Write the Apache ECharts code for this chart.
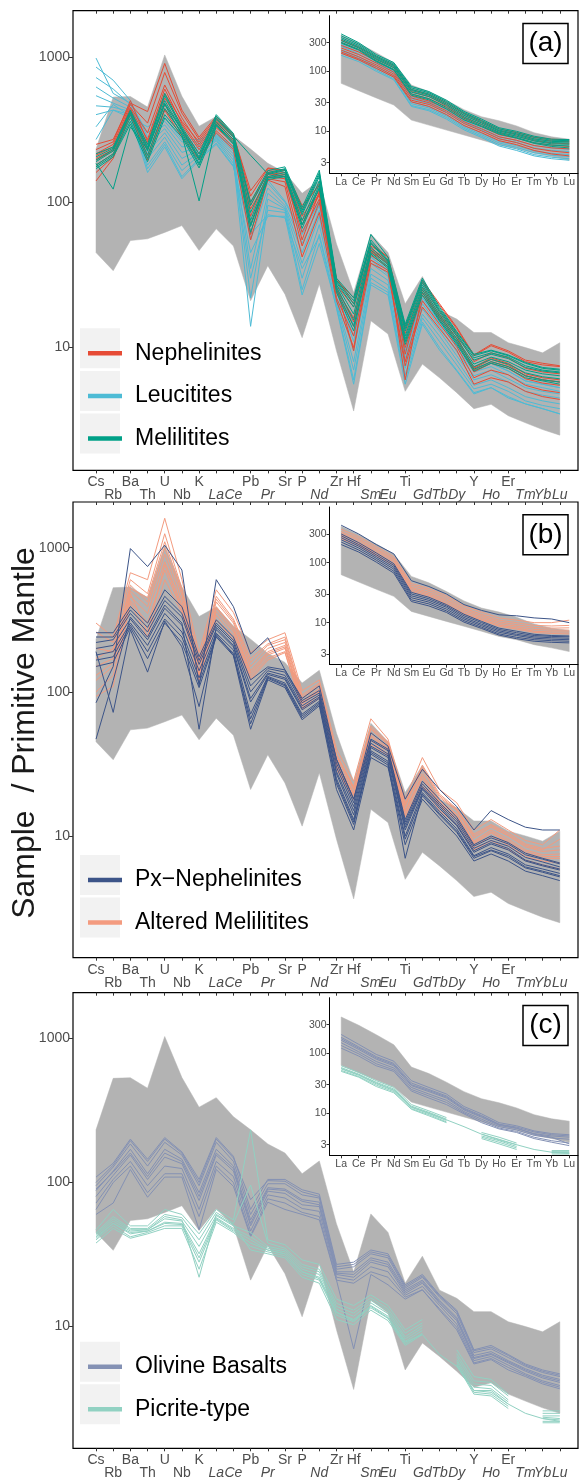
<!DOCTYPE html>
<html>
<head>
<meta charset="utf-8">
<script src="https://cdn.jsdelivr.net/npm/echarts@6.0.0/dist/echarts.min.js"></script>
<style>
html, body { margin: 0; padding: 0; background: #fff; }
#chart { width: 582px; height: 1482px; }
</style>
</head>
<body>
<div id="chart"></div>
<script>
// element order of the spider diagram
const elements = ['Cs', 'Rb', 'Ba', 'Th', 'U', 'Nb', 'K', 'La', 'Ce', 'Pb', 'Pr', 'Sr', 'P', 'Nd',
  'Zr', 'Hf', 'Sm', 'Eu', 'Ti', 'Gd', 'Tb', 'Dy', 'Y', 'Ho', 'Er', 'Tm', 'Yb', 'Lu']
const upperRow = ['Cs', 'Ba', 'U', 'K', 'Pb', 'Sr', 'P', 'Zr', 'Hf', 'Ti', 'Y', 'Er']
const italicLabels = ['La', 'Ce', 'Pr', 'Nd', 'Sm', 'Eu', 'Gd', 'Tb', 'Dy', 'Ho', 'Tm', 'Yb', 'Lu']
const ree = ['La', 'Ce', 'Pr', 'Nd', 'Sm', 'Eu', 'Gd', 'Tb', 'Dy', 'Ho', 'Er', 'Tm', 'Yb', 'Lu']
const mainTicks = [10, 100, 1000]
const reeTicks = [3, 10, 30, 100, 300]

// grey reference field
const envMainHi = [232, 528, 533, 451, 1030, 535, 333, 388, 286, 232, 185, 160, 115, 141,
  51.6, 23.9, 60.5, 45, 20, 30.8, 17.9, 15.7, 12.7, 12.7, 10.8, 10, 9.2, 10.8]
const envMainLo = [45, 33.8, 54.5, 56, 62, 69, 46.5, 65.6, 50, 21, 36.6, 23.3, 11.7, 27.4,
  9.5, 3.66, 15.3, 12.4, 5.0, 7.7, 6.2, 4.9, 3.8, 4.07, 3.4, 3.04, 2.73, 2.5]
const envReeHi = [403, 293, 204, 139, 59, 46, 33, 23, 17.5, 15, 12.3, 9.5, 8.1, 7.4]
const envReeLo = [63, 47.5, 36, 27.4, 15.4, 12.7, 10.5, 8.7, 7.2, 5.9, 5.2, 4.3, 3.8, 3.3]

// (a) spider patterns
const nephelinites = [
  [250, 270, 480, 420, 900, 430, 280, 390, 295, 110, 170, 165, 95, 130, 29, 22, 50, 42, 14, 28, 19.5, 13.5, 8.8, 10.3, 9.3, 8.0, 7.6, 7.4],
  [210, 240, 450, 300, 640, 380, 250, 360, 280, 95, 160, 155, 80, 120, 27, 19, 47, 39, 12.5, 26, 18, 12.5, 8.0, 9.2, 8.5, 7.2, 6.8, 6.6],
  [195, 225, 430, 250, 520, 340, 230, 340, 265, 80, 155, 150, 70, 112, 25, 16, 45, 38, 11, 24, 16.5, 11.5, 7.3, 8.5, 7.8, 6.6, 6.2, 6.0],
  [180, 215, 420, 230, 470, 320, 215, 325, 255, 70, 150, 145, 62, 105, 24, 14, 43, 36, 10, 23, 15.5, 11, 6.8, 7.8, 7.2, 6.1, 5.7, 5.5],
  [230, 260, 500, 260, 560, 360, 260, 370, 285, 60, 165, 160, 55, 118, 26, 15, 48, 40, 9, 25, 17, 12, 7.0, 8.0, 7.4, 6.4, 6.0, 5.8],
  [160, 205, 410, 210, 440, 300, 200, 310, 240, 90, 145, 138, 50, 100, 22, 12, 40, 34, 8, 21, 14.5, 10.2, 6.2, 7.0, 6.5, 5.5, 5.1, 4.9],
  [140, 200, 400, 195, 430, 280, 195, 300, 230, 55, 142, 128, 42, 85, 21, 10, 38, 33, 7.5, 19, 13.5, 9.6, 5.6, 6.2, 5.8, 5.0, 4.6, 4.4],
  [215, 250, 470, 350, 780, 410, 270, 380, 290, 120, 172, 166, 90, 134, 30, 20, 52, 42, 13.5, 29, 20, 13.8, 8.9, 10.5, 9.5, 8.2, 7.8, 7.5],
  [200, 230, 440, 270, 600, 350, 240, 350, 270, 100, 158, 150, 75, 115, 26, 9.5, 46, 38, 6, 24, 16, 11.5, 7.2, 8.3, 7.6, 6.4, 6.0, 5.8]
]
const melilitites = [
  [205, 235, 420, 240, 540, 320, 205, 390, 290, 95, 160, 170, 88, 160, 29, 21, 55, 40, 14, 29, 18.5, 12.7, 8.8, 9.5, 8.8, 7.8, 7.2, 7.0],
  [190, 225, 400, 225, 480, 310, 195, 370, 280, 85, 155, 165, 82, 150, 28, 19, 52, 39, 13, 27, 17.5, 12, 8.2, 9.0, 8.4, 7.3, 6.9, 6.7],
  [180, 215, 380, 210, 440, 300, 185, 355, 270, 75, 150, 160, 75, 140, 27, 17, 49, 38, 12, 26, 16.8, 11.5, 7.7, 8.6, 8.0, 7.0, 6.6, 6.4],
  [175, 210, 360, 200, 400, 290, 180, 345, 260, 68, 147, 155, 70, 132, 26, 15.5, 47, 37, 11.5, 25, 16.2, 11.1, 7.4, 8.3, 7.7, 6.7, 6.3, 6.1],
  [170, 205, 345, 190, 380, 280, 172, 335, 250, 62, 143, 150, 66, 126, 25, 14, 45, 36, 11, 24, 15.6, 10.8, 7.1, 8.0, 7.4, 6.4, 6.0, 5.8],
  [215, 240, 430, 250, 560, 330, 215, 400, 297, 100, 165, 175, 92, 166, 30, 22, 60, 42, 14.5, 30, 19, 12.9, 9.0, 9.6, 8.9, 7.9, 7.3, 7.1],
  [185, 123, 330, 230, 470, 290, 102, 340, 255, 70, 148, 150, 70, 125, 24, 13, 44, 35, 10.5, 23, 15.2, 10.5, 6.9, 7.8, 7.2, 6.2, 5.9, 5.6],
  [195, 230, 410, 235, 500, 315, 200, 380, 285, 210, 157, 168, 85, 155, 28.5, 20, 53, 39.5, 13.5, 28, 18, 12.3, 8.5, 9.2, 8.6, 7.5, 7.0, 6.8]
]
const leucitites = [
  [980, 560, 480, 300, 360, 260, 260, 290, 235, 80, 135, 100, 60, 100, 27, 14, 42, 34, 9.5, 22, 16, 10.5, 7.2, 7.8, 6.9, 5.9, 5.6, 5.3],
  [850, 690, 500, 280, 340, 240, 250, 285, 225, 55, 125, 95, 52, 95, 25, 12, 40, 32, 9, 21, 15, 10, 6.8, 7.4, 6.5, 5.6, 5.3, 5.0],
  [720, 600, 470, 250, 320, 220, 240, 280, 215, 35, 115, 92, 45, 88, 24, 11, 38, 31, 8.5, 20, 14, 9.4, 6.4, 7.0, 6.1, 5.3, 5.0, 4.8],
  [620, 520, 450, 220, 300, 200, 230, 275, 205, 22, 105, 90, 38, 80, 22, 9.5, 35, 29, 8, 18.5, 13, 8.8, 6.0, 6.5, 5.8, 5.0, 4.7, 4.5],
  [540, 480, 430, 200, 280, 180, 220, 270, 195, 14, 95, 88, 30, 70, 21, 8, 32, 27, 7.2, 17, 12, 8.2, 5.5, 6.0, 5.3, 4.6, 4.3, 4.1],
  [460, 450, 420, 180, 260, 165, 210, 265, 185, 30, 88, 85, 25, 60, 20, 7, 30, 25, 6.5, 16, 11, 7.6, 5.2, 5.6, 5.0, 4.3, 4.0, 3.8],
  [400, 430, 400, 170, 250, 150, 200, 255, 178, 45, 80, 80, 23, 52, 19, 6, 28, 24, 6, 15, 10, 7.0, 4.9, 5.3, 4.6, 4.1, 3.8, 3.5],
  [330, 470, 390, 160, 240, 145, 195, 250, 175, 60, 82, 78, 35, 58, 18.6, 5.6, 27, 23, 5.6, 14.5, 9.6, 6.9, 4.8, 5.3, 4.5, 4.1, 3.8, 3.5],
  [270, 430, 380, 330, 380, 270, 270, 297, 240, 100, 142, 102, 63, 102, 26, 14.5, 42, 34, 9.5, 22, 15, 10.5, 7.2, 7.8, 6.9, 5.9, 5.6, 5.3]
]

// (b) spider patterns
const pxNephelinites = [
  [84, 150, 986, 740, 1040, 700, 110, 600, 390, 183, 237, 142, 90, 110, 34, 18, 52, 42, 18, 29, 21, 16, 11, 15, 13, 11.5, 11, 11],
  [257, 257, 390, 300, 510, 390, 175, 316, 240, 121, 149, 142, 87, 102, 34, 18, 47, 40, 13, 24, 18, 13.5, 8.7, 10, 9, 7.6, 7, 6.5],
  [220, 230, 350, 260, 430, 330, 155, 290, 220, 100, 140, 130, 80, 95, 30, 16, 44, 37, 12, 22, 16.5, 12.5, 8.2, 9.3, 8.5, 7.1, 6.6, 6.1],
  [200, 210, 320, 230, 380, 290, 140, 270, 205, 85, 132, 122, 75, 90, 27, 14, 41, 35, 11, 21, 15.5, 11.8, 7.7, 8.8, 8.0, 6.7, 6.2, 5.8],
  [180, 190, 300, 210, 350, 260, 125, 255, 195, 70, 128, 115, 70, 86, 25, 13, 39, 33, 10, 20, 14.8, 11.2, 7.3, 8.3, 7.5, 6.3, 5.9, 5.5],
  [166, 175, 290, 190, 320, 240, 115, 245, 185, 60, 124, 110, 66, 82, 23, 12, 37, 31, 9.5, 19, 14, 10.6, 7.0, 7.9, 7.1, 6.0, 5.6, 5.2],
  [150, 160, 280, 170, 300, 220, 107, 240, 178, 55, 121, 107, 64, 80, 21, 11, 35, 30, 8.7, 18, 13.3, 10, 6.7, 7.5, 6.7, 5.7, 5.3, 4.9],
  [190, 72, 270, 137, 310, 205, 79, 250, 180, 65, 126, 112, 68, 84, 24, 12.5, 38, 32, 7, 19.5, 14.3, 10.8, 7.2, 8, 7.3, 6.1, 5.7, 5.3],
  [47, 120, 330, 240, 400, 300, 55, 280, 210, 90, 135, 125, 77, 92, 28, 15, 42, 36, 11.5, 21.5, 16, 12, 7.9, 9, 8.2, 6.8, 6.3, 5.9],
  [240, 240, 370, 280, 460, 350, 165, 300, 228, 110, 145, 137, 84, 98, 32, 17, 46, 39, 12.5, 23, 17, 13, 8.5, 9.7, 8.8, 7.4, 6.9, 6.4]
]
const alteredMelilitites = [
  [300, 240, 670, 600, 1600, 600, 187, 510, 355, 187, 230, 257, 102, 121, 40, 24, 65, 47, 18, 35, 21, 17, 11, 13, 11, 9.3, 8.7, 11],
  [260, 220, 600, 480, 1250, 520, 170, 460, 320, 170, 215, 240, 95, 115, 37, 22, 58, 45, 17, 31, 19.5, 15.5, 10.3, 12, 10.5, 8.8, 8.2, 8.5],
  [200, 190, 550, 420, 1000, 470, 155, 420, 300, 150, 200, 220, 90, 110, 35, 21, 55, 43, 16, 29, 18.5, 15, 9.7, 11.5, 10, 8.4, 7.8, 8],
  [150, 170, 500, 390, 900, 430, 140, 390, 280, 140, 190, 210, 86, 105, 33, 20, 52, 41, 15, 27, 17.5, 14.2, 9.2, 11, 9.5, 8, 7.4, 7.5],
  [120, 150, 460, 350, 800, 400, 130, 360, 260, 130, 180, 200, 82, 100, 31, 19, 49, 39, 14.5, 25, 16.5, 13.5, 8.8, 10.5, 9, 7.6, 7, 7],
  [100, 130, 430, 300, 700, 370, 125, 340, 245, 125, 172, 190, 78, 95, 30, 18, 46, 37, 14, 23, 16, 13, 8.4, 10, 8.6, 7.2, 6.7, 6.5],
  [93, 109, 415, 240, 600, 355, 121, 316, 230, 121, 166, 187, 76, 90, 29, 18, 43, 36, 13.5, 22, 15, 12, 8, 9.3, 8.1, 6.8, 6.3, 5.9],
  [170, 200, 520, 450, 1100, 500, 160, 440, 310, 160, 210, 230, 92, 112, 36, 21.5, 56, 44, 16.5, 30, 19, 15.2, 10, 11.8, 10.2, 8.6, 8, 9.5],
  [130, 160, 480, 260, 760, 380, 135, 380, 270, 135, 185, 205, 84, 102, 32, 19.5, 50, 40, 15, 26, 17, 14, 9, 10.7, 9.2, 7.8, 7.2, 7.2]
]

// (c) spider patterns
const olivineBasalts = [
  [109, 136, 200, 145, 205, 163, 105, 205, 152, 65, 105, 105, 89, 83, 27, 28, 34, 32, 19.5, 23, 16.6, 13, 6.9, 7.4, 6.4, 5.5, 5.0, 4.7],
  [95, 128, 185, 130, 190, 155, 95, 190, 140, 60, 98, 98, 82, 78, 25, 26, 32, 30, 18.5, 22, 16, 12.3, 6.6, 7.0, 6.1, 5.3, 4.8, 4.5],
  [88, 120, 170, 115, 170, 145, 85, 170, 130, 55, 92, 90, 76, 73, 24, 24, 30, 28, 18, 21, 15.2, 11.6, 6.3, 6.7, 5.8, 5.1, 4.6, 4.3],
  [80, 112, 155, 105, 150, 135, 75, 155, 120, 50, 87, 84, 70, 68, 23, 22, 28, 26, 17, 20, 14.5, 11, 6.0, 6.4, 5.6, 4.9, 4.4, 4.1],
  [72, 105, 140, 95, 130, 125, 65, 140, 110, 46, 82, 78, 66, 63, 22, 21, 26, 24, 16.5, 19, 14, 10.4, 5.8, 6.2, 5.4, 4.7, 4.2, 3.9],
  [65, 100, 130, 85, 115, 115, 58, 130, 100, 43, 77, 72, 62, 58, 21, 20, 24, 22, 16, 18, 13.3, 9.9, 5.6, 6.0, 5.2, 4.6, 4.1, 3.8],
  [60, 72, 123, 79, 109, 109, 47, 123, 94, 42, 73, 65, 60, 55, 21, 7, 23, 19.5, 15.5, 18, 13, 9.5, 5.5, 5.9, 5.0, 4.5, 4.0, 3.7],
  [100, 132, 195, 140, 200, 160, 100, 200, 148, 76, 103, 102, 86, 80, 26, 27, 33, 31, 19, 22.5, 16.3, 12.7, 6.8, 7.2, 6.3, 5.4, 4.9, 4.6],
  [90, 118, 160, 110, 160, 140, 80, 160, 125, 52, 90, 88, 74, 70, 23.5, 23, 29, 27, 17.5, 20.5, 14.8, 11.3, 6.1, 6.5, 5.7, 5.0, 4.5, 4.2]
]
const picriteType = [
  [47, 65, 50, 50, 65, 60, 44, 65, 55, 232, 40, 37, 29, 27, 15.5, 14, 16.6, 14, 9.5, 11.2, null, 6.9, 4.5, 4.3, 3.4, null, 2.6, 2.6],
  [45, 58, 48, 48, 60, 57, 40, 62, 52, 96, 38, 35, 27, 25, 14.5, 13, 15.8, 13.3, 9, 10.6, null, 6.5, 4.2, 4.1, 3.3, null, 2.5, 2.5],
  [43, 54, 46, 47, 56, 54, 36, 59, 50, 45, 36, 34, 26, 24, 13.8, 12.4, 15.2, 12.8, 8.5, 10.2, null, 6.2, 4.0, 3.9, 3.1, null, 2.4, 2.4],
  [41, 52, 44, 46, 53, 52, 32, 57, 48, 42, 35, 33, 25, 23, 13.2, 11.8, 14.6, 12.3, 8.2, 9.8, null, 5.9, 3.8, 3.7, 3.0, null, 2.35, 2.3],
  [40, 50, 42, 45, 50, 50, 28, 55, 46, 38, 34, 32, 24, 22, 12.6, 11.2, 14, 11.8, 7.9, 9.4, null, 5.7, 3.6, 3.5, 2.9, null, 2.3, 2.25],
  [38, 48, 41, 44, 48, 48, 25, 53, 45, 36, 33, 31, 23, 21, 12, 10.8, 13.5, 11.4, 7.6, 9.0, null, 5.5, 3.5, 3.4, 2.8, null, 2.2, 2.2],
  [44, 56, 47, 47, 58, 55, 22, 60, 51, 34, 32, 30, 22, 20, 11.2, 10.3, 13, 11, 7.4, 8.8, null, 5.4, 3.4, 3.3, 2.7, null, 2.15, 2.15],
  [42, 52, 45, 46, 52, 51, 30, 56, 47, 40, 34, 32, 24, 21.5, 12.5, 11, 13.8, 11.5, 7.8, 8.8, 6.4, 5.3, 3.6, 3.6, 2.9, 2.5, 2.3, 2.2]
]

// REE insets
const reeNephelinites = [
  [330, 250, 175, 125, 50, 41, 30, 20, 15, 11, 9.6, 8.0, 7.4, 7.2],
  [300, 230, 160, 115, 46, 38, 28, 18.5, 14, 10.2, 9, 7.5, 6.9, 6.7],
  [270, 210, 150, 105, 42, 35, 26, 17, 13, 9.5, 8.3, 7, 6.4, 6.2],
  [245, 190, 138, 97, 39, 32, 24, 15.8, 12, 8.8, 7.7, 6.4, 5.9, 5.6],
  [225, 175, 128, 90, 36, 30, 22, 14.5, 11, 8.1, 7.1, 5.8, 5.3, 5.1],
  [210, 162, 120, 84, 33, 28, 20.5, 13.5, 10.2, 7.5, 6.5, 5.2, 4.7, 4.4],
  [200, 155, 112, 80, 31, 26, 19, 12.5, 9.5, 7, 6, 4.8, 4.2, 3.9]
]
const reeMelilitites = [
  [420, 300, 190, 140, 56, 46, 33, 21.5, 16, 11.5, 10, 8.3, 7.4, 7.3],
  [390, 285, 180, 133, 53, 44, 31.5, 20.5, 15.2, 11, 9.5, 7.9, 7.1, 7.0],
  [365, 270, 172, 127, 50, 42, 30, 19.5, 14.5, 10.5, 9.1, 7.5, 6.8, 6.7],
  [345, 257, 165, 121, 48, 40, 28.5, 18.5, 13.8, 10.1, 8.7, 7.2, 6.5, 6.4],
  [325, 245, 158, 115, 45, 38, 27, 17.5, 13.1, 9.7, 8.3, 6.9, 6.2, 6.1],
  [305, 232, 150, 108, 42, 35, 25, 16.5, 12.4, 9.3, 7.9, 6.5, 5.9, 5.7],
  [295, 225, 145, 105, 40, 33.5, 23.5, 15.5, 12, 9, 7.7, 6.3, 5.6, 5.3]
]
const reeLeucitites = [
  [230, 175, 120, 85, 31, 26, 19, 12.5, 9.3, 6.8, 5.8, 4.7, 4.3, 4.1],
  [215, 165, 113, 80, 29, 24.5, 18, 11.8, 8.8, 6.4, 5.4, 4.4, 4.0, 3.8],
  [200, 155, 106, 75, 27, 23, 17, 11.2, 8.3, 6.0, 5.1, 4.1, 3.7, 3.5],
  [185, 145, 100, 72, 26, 22, 16, 10.6, 7.9, 5.7, 4.8, 3.9, 3.5, 3.3],
  [260, 195, 135, 95, 35, 29, 21, 14, 10.5, 7.6, 6.5, 5.3, 4.8, 4.6],
  [280, 210, 145, 100, 38, 31, 23, 15, 11.3, 8.2, 7, 5.8, 5.3, 5.0]
]
const reePxNephelinites = [
  [420, 300, 200, 140, 50, 40, 30, 20, 16, 13.5, 13, 12, 11.5, 10],
  [280, 200, 135, 90, 30, 25, 19, 13, 10, 7.7, 6.8, 6.1, 5.9, 5.8],
  [260, 188, 126, 84, 28, 23.5, 18, 12.2, 9.4, 7.3, 6.4, 5.8, 5.6, 5.5],
  [240, 175, 118, 78, 26, 22, 16.8, 11.5, 8.9, 6.9, 6.1, 5.5, 5.3, 5.2],
  [220, 162, 110, 72, 24, 20.5, 15.7, 10.8, 8.4, 6.5, 5.7, 5.2, 5.0, 4.9],
  [200, 150, 102, 67, 22.5, 19, 14.8, 10.2, 8, 6.2, 5.4, 4.9, 4.7, 4.6],
  [300, 215, 145, 96, 32, 26.5, 20, 13.8, 10.5, 8.1, 7.2, 6.4, 6.1, 6.0]
]
const reeAlteredMelilitites = [
  [360, 270, 185, 125, 45, 37, 28, 19, 15, 12, 11, 10, 10, 11],
  [330, 250, 172, 116, 42, 34.5, 26, 17.5, 13.8, 11, 10, 9, 8.8, 9],
  [310, 235, 162, 110, 39, 32, 24, 16.5, 13, 10.3, 9.3, 8.3, 8.1, 8.2],
  [290, 220, 152, 103, 37, 30, 22.5, 15.5, 12.2, 9.7, 8.7, 7.7, 7.5, 7.5],
  [270, 205, 142, 96, 35, 28.5, 21, 14.5, 11.5, 9.1, 8.2, 7.2, 7, 7],
  [250, 190, 132, 90, 33, 27, 20, 13.8, 11, 8.7, 7.8, 6.9, 6.6, 6.5]
]
const reeOlivineBasalts = [
  [206, 141, 96, 74, 35, 27, 21, 13, 9.8, 7.0, 6.2, 5.1, 4.6, 4.4],
  [185, 128, 88, 68, 32, 25, 19.5, 12.2, 9.2, 6.6, 5.9, 4.9, 4.4, 4.2],
  [165, 116, 80, 62, 29, 23, 18, 11.4, 8.6, 6.3, 5.6, 4.6, 4.2, 4.0],
  [150, 106, 73, 57, 27, 21, 16.5, 10.7, 8.0, 6.0, 5.3, 4.3, 3.9, 3.7],
  [135, 98, 67, 53, 25, 19.5, 15.2, 10.2, 7.5, 5.7, 5.0, 4.0, 3.5, 3.2],
  [122, 90, 62, 50, 23.5, 18, 14, 9.8, 7.0, 5.5, 4.8, 3.8, 3.3, 2.9],
  [175, 122, 84, 65, 30, 24, 18.7, 11.8, 8.9, 6.5, 5.7, 4.5, 4.0, 3.1]
]
const reePicriteType = [
  [62, 48, 35, 27, 14, 11, 8.5, null, 4.8, 4.0, 3.2, null, 2.4, 2.4],
  [58, 45, 33, 25.5, 13.2, 10.4, 8.0, null, 4.5, 3.7, 3.0, null, 2.3, 2.3],
  [55, 43, 31, 24, 12.6, 9.9, 7.6, null, 4.2, 3.5, 2.8, null, 2.25, 2.2],
  [52, 41, 29.5, 23, 12, 9.5, 7.2, null, 4.0, 3.3, 2.65, null, 2.2, 2.15],
  [50, 40, 28, 22, 11.7, 9.1, 7.0, null, 3.8, 3.1, 2.5, null, 2.1, 2.1],
  [56, 44, 32, 24.5, 12.8, 10.1, 7.8, 6.0, 4.5, 3.6, 3.0, 2.5, 2.25, 2.2]
]

const FONT = '"Liberation Sans", Arial, Helvetica, sans-serif'
const TICK_TEXT = '#4d4d4d'
const GREY = '#b3b3b3'

const panels = [
  {
    top: 10.7, bottom: 470.4, tag: '(a)', keyTop: 328.3,
    groups: [
      { name: 'Leucitites', color: '#4DBBD5', main: leucitites, ree: reeLeucitites },
      { name: 'Nephelinites', color: '#E64B35', main: nephelinites, ree: reeNephelinites },
      { name: 'Melilitites', color: '#00A087', main: melilitites, ree: reeMelilitites },
    ],
    legend: ['Nephelinites', 'Leucitites', 'Melilitites'],
  },
  {
    top: 502, bottom: 957.7, tag: '(b)', keyTop: 855,
    groups: [
      { name: 'Altered Melilitites', color: '#F39B7F', main: alteredMelilitites, ree: reeAlteredMelilitites },
      { name: 'Px\u2212Nephelinites', color: '#3C5488', main: pxNephelinites, ree: reePxNephelinites },
    ],
    legend: ['Px\u2212Nephelinites', 'Altered Melilitites'],
  },
  {
    top: 992.7, bottom: 1448.3, tag: '(c)', keyTop: 1341.7,
    groups: [
      { name: 'Olivine Basalts', color: '#8491B4', main: olivineBasalts, ree: reeOlivineBasalts },
      { name: 'Picrite-type', color: '#91D1C2', main: picriteType, ree: reePicriteType },
    ],
    legend: ['Olivine Basalts', 'Picrite-type'],
  },
]

const allIdx = elements.map((e, i) => i)
const upperIdx = allIdx.filter((i) => upperRow.includes(elements[i]))
const lowerIdx = allIdx.filter((i) => !upperRow.includes(elements[i]))
const reeIdx = ree.map((e, i) => i)

const bandSeries = (hi, lo, xi, yi) => ({
  type: 'custom',
  xAxisIndex: xi,
  yAxisIndex: yi,
  silent: true,
  z: 1,
  data: [[0, lo[0]]],
  renderItem: (params, api) => {
    const pts = []
    hi.forEach((v, i) => pts.push(api.coord([i, v])))
    for (let i = lo.length - 1; i >= 0; i--) {
      pts.push(api.coord([i, lo[i]]))
    }
    return {
      type: 'polygon',
      shape: { points: pts },
      style: { fill: GREY, stroke: GREY, lineWidth: 0.5 },
    }
  },
})

const lineSeries = (name, color, rows, xi, yi) =>
  rows.map((r) => ({
    type: 'line',
    name: name,
    xAxisIndex: xi,
    yAxisIndex: yi,
    data: r.map((v, i) => [i, v === null ? '-' : v]),
    symbol: 'none',
    silent: true,
    z: 3,
    lineStyle: { color: color, width: 1 },
    itemStyle: { color: color },
  }))

const grid = []
const xAxis = []
const yAxis = []
const series = []
const legend = []
const graphic = []

panels.forEach((p) => {
  // main spider diagram
  const gMain = grid.length
  grid.push({
    left: 73, width: 505, top: p.top, height: p.bottom - p.top,
    show: true, borderColor: '#000', borderWidth: 1.2, backgroundColor: 'transparent',
    outerBoundsMode: 'none', containLabel: false,
  })
  const xMain = xAxis.length
  xAxis.push({
    type: 'value', gridIndex: gMain, min: -1.34, max: 28.06, position: 'bottom',
    axisLine: { show: false, onZero: false },
    splitLine: { show: false },
    axisTick: { customValues: allIdx, length: 3, lineStyle: { color: '#333' } },
    axisLabel: {
      customValues: upperIdx, formatter: (v) => elements[Math.round(v)],
      fontSize: 14, color: TICK_TEXT, margin: 5, fontFamily: FONT,
    },
  })
  xAxis.push({
    type: 'value', gridIndex: gMain, min: -1.34, max: 28.06, position: 'bottom', offset: 13,
    axisLine: { show: false, onZero: false },
    splitLine: { show: false },
    axisTick: { show: false },
    axisLabel: {
      customValues: lowerIdx,
      formatter: (v) => {
        const e = elements[Math.round(v)]
        return italicLabels.includes(e) ? '{i|' + e + '}' : e
      },
      rich: { i: { fontStyle: 'italic', fontSize: 14, color: TICK_TEXT, fontFamily: FONT } },
      fontSize: 14, color: TICK_TEXT, margin: 5, fontFamily: FONT,
    },
  })
  xAxis.push({
    type: 'value', gridIndex: gMain, min: -1.34, max: 28.06, position: 'top',
    axisLine: { show: false, onZero: false },
    splitLine: { show: false },
    axisTick: { inside: true, customValues: allIdx, length: 3, lineStyle: { color: '#333' } },
    axisLabel: { show: false },
  })
  const yMain = yAxis.length
  yAxis.push({
    type: 'log', gridIndex: gMain, min: 1.43, max: 2075,
    axisLine: { show: false, onZero: false },
    splitLine: { show: false },
    minorTick: { show: false },
    axisTick: { customValues: mainTicks, length: 4, lineStyle: { color: '#333' } },
    axisLabel: {
      customValues: mainTicks, formatter: (v) => String(Math.round(v)),
      fontSize: 14, color: TICK_TEXT, margin: 3, fontFamily: FONT,
    },
  })

  // REE inset
  const gInset = grid.length
  grid.push({
    left: 329.5, width: 248.5, top: p.top + 5, height: 157.6,
    outerBoundsMode: 'none', containLabel: false,
  })
  const xInset = xAxis.length
  xAxis.push({
    type: 'value', gridIndex: gInset, min: -0.667, max: 13.5, position: 'bottom', z: 5,
    axisLine: { show: true, onZero: false, lineStyle: { color: '#000', width: 1 } },
    splitLine: { show: false },
    axisTick: { customValues: reeIdx, length: 3, lineStyle: { color: '#333' } },
    axisLabel: {
      customValues: reeIdx, formatter: (v) => ree[Math.round(v)],
      fontSize: 10.5, color: TICK_TEXT, margin: 3, fontFamily: FONT,
    },
  })
  const yInset = yAxis.length
  yAxis.push({
    type: 'log', gridIndex: gInset, min: 2.0, max: 845, z: 5,
    axisLine: { show: true, onZero: false, lineStyle: { color: '#000', width: 1 } },
    splitLine: { show: false },
    minorTick: { show: false },
    axisTick: { customValues: reeTicks, length: 3, lineStyle: { color: '#333' } },
    axisLabel: {
      customValues: reeTicks, formatter: (v) => String(Math.round(v)),
      fontSize: 10.5, color: TICK_TEXT, margin: 3, fontFamily: FONT,
    },
  })

  series.push(bandSeries(envMainHi, envMainLo, xMain, yMain))
  series.push(bandSeries(envReeHi, envReeLo, xInset, yInset))
  p.groups.forEach((g) => {
    series.push(...lineSeries(g.name, g.color, g.main, xMain, yMain))
    series.push(...lineSeries(g.name, g.color, g.ree, xInset, yInset))
  })

  // legend with ggplot style key backgrounds
  p.legend.forEach((n, j) => {
    graphic.push({
      type: 'rect', z: 1, silent: true,
      shape: { x: 80, y: p.keyTop + j * 42.6, width: 40, height: 40 },
      style: { fill: '#f2f2f2' },
    })
  })
  legend.push({
    orient: 'vertical', left: 83, top: p.keyTop + 8,
    icon: 'rect', itemWidth: 34, itemHeight: 4.5, itemGap: 18.6,
    selectedMode: false,
    data: p.legend,
    textStyle: { fontSize: 23, color: '#000', fontFamily: FONT, lineHeight: 24, padding: [0, 0, 0, 8] },
  })

  // panel tag
  graphic.push({
    type: 'group', z: 10,
    children: [
      {
        type: 'rect',
        shape: { x: 523, y: p.top + 12.8, width: 45, height: 40 },
        style: { fill: '#fff', stroke: '#000', lineWidth: 1.5 },
      },
      {
        type: 'text', x: 545.5, y: p.top + 33,
        style: { text: p.tag, font: '28px ' + FONT, fill: '#000', align: 'center', verticalAlign: 'middle' },
      },
    ],
  })
})

graphic.push({
  type: 'text', x: 25, y: 733, rotation: Math.PI / 2, z: 10,
  style: {
    text: 'Sample  / Primitive Mantle', font: '32px ' + FONT, fill: '#1a1a1a',
    align: 'center', verticalAlign: 'middle',
  },
})

const chart = echarts.init(document.getElementById('chart'), null, { renderer: 'canvas' })
chart.setOption({
  animation: false,
  backgroundColor: '#fff',
  textStyle: { fontFamily: FONT },
  grid: grid,
  xAxis: xAxis,
  yAxis: yAxis,
  legend: legend,
  graphic: graphic,
  series: series,
})
</script>
</body>
</html>
